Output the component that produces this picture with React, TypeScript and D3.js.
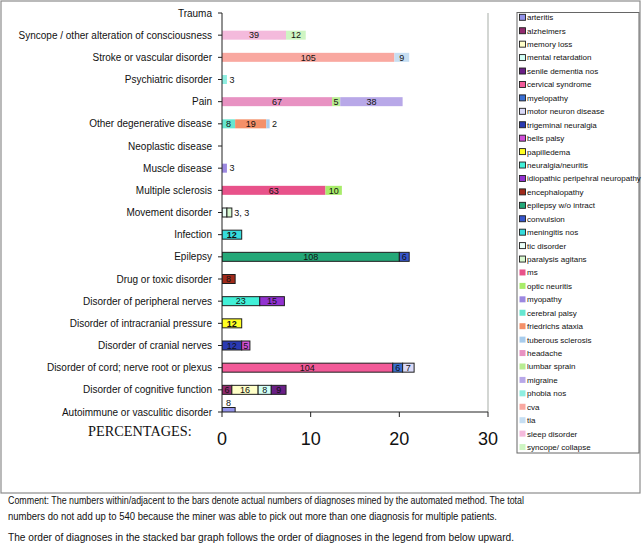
import React from "react";
import * as d3 from "d3";

const categories = [
  "Trauma",
  "Syncope / other alteration of consciousness",
  "Stroke or vascular disorder",
  "Psychiatric disorder",
  "Pain",
  "Other degenerative disease",
  "Neoplastic disease",
  "Muscle disease",
  "Multiple sclerosis",
  "Movement disorder",
  "Infection",
  "Epilepsy",
  "Drug or toxic disorder",
  "Disorder of peripheral nerves",
  "Disorder of intracranial pressure",
  "Disorder of cranial nerves",
  "Disorder of cord; nerve root or plexus",
  "Disorder of cognitive function",
  "Autoimmune or vasculitic disorder",
];

const seriesNames = [
  "arteritis", "alzheimers", "memory loss", "mental retardation", "senile dementia nos",
  "cervical syndrome", "myelopathy", "motor neuron disease", "trigeminal neuralgia", "bells palsy",
  "papilledema", "neuralgia/neuritis", "idiopathic peripehral neuropathy", "encephalopathy",
  "epilepsy w/o intract", "convulsion", "meningitis nos", "tic disorder", "paralysis agitans",
  "ms", "optic neuritis", "myopathy", "cerebral palsy", "friedrichs ataxia", "tuberous sclerosis",
  "headache", "lumbar sprain", "migraine", "phobia nos", "cva", "tia", "sleep disorder",
  "syncope/ collapse",
];

const seriesCategory = [
  "Autoimmune or vasculitic disorder",
  "Disorder of cognitive function", "Disorder of cognitive function", "Disorder of cognitive function", "Disorder of cognitive function",
  "Disorder of cord; nerve root or plexus", "Disorder of cord; nerve root or plexus", "Disorder of cord; nerve root or plexus",
  "Disorder of cranial nerves", "Disorder of cranial nerves",
  "Disorder of intracranial pressure",
  "Disorder of peripheral nerves", "Disorder of peripheral nerves",
  "Drug or toxic disorder",
  "Epilepsy", "Epilepsy",
  "Infection",
  "Movement disorder", "Movement disorder",
  "Multiple sclerosis", "Multiple sclerosis",
  "Muscle disease",
  "Other degenerative disease", "Other degenerative disease", "Other degenerative disease",
  "Pain", "Pain", "Pain",
  "Psychiatric disorder",
  "Stroke or vascular disorder", "Stroke or vascular disorder",
  "Syncope / other alteration of consciousness", "Syncope / other alteration of consciousness",
];

const seriesCounts = [
  8, 6, 16, 8, 9, 104, 6, 7, 12, 5, 12, 23, 15, 8, 108, 6, 12, 3, 3,
  63, 10, 3, 8, 19, 2, 67, 5, 38, 3, 105, 9, 39, 12,
];

const seriesColors = [
  "#9393ea", "#922a6e", "#ffffc8", "#d2fff6", "#6a1f86",
  "#f25a98", "#3a6fd2", "#dadaf8", "#2a3ab2", "#d050d8",
  "#ffff22", "#42f0d8", "#9232d0", "#a02a1a",
  "#24a878", "#3656cc", "#36dcdc", "#eafff8", "#d8f8d0",
  "#e8528a", "#a8ec6a", "#9c88e0", "#66e6d0", "#f49068", "#a8ccec",
  "#e892c2", "#b8ec92", "#b8a8e8", "#8eeee0", "#f9a8a0", "#c6def2", "#f4badc",
  "#cef5c2",
];

const borderedCount = 19;
const boldLabelSeries = ["meningitis nos", "papilledema"];
const xTicks = [0, 10, 20, 30];
const TOTAL = 540;

const commentLines = [
  "Comment: The numbers within/adjacent to the bars denote actual numbers of diagnoses mined by the automated method. The total",
  "numbers do not add up to 540 because the miner was able to pick out more than one diagnosis for multiple patients.",
  "The order of diagnoses in the stacked bar graph follows the order of diagnoses in the legend from below upward.",
];
const commentWidths = [516, 489, 506];

const SANS = "'Liberation Sans', Arial, sans-serif";
const SERIF = "'Liberation Serif', 'Times New Roman', serif";

export default function App() {
  const x = d3.scaleLinear().domain([0, 30]).range([222, 488]);
  const y = d3.scalePoint<string>().domain(categories).range([13, 412]);
  const barH = 9;
  const plotTop = 13;
  const plotBottom = 412;

  const segs: any[] = [];
  const outside: Record<string, { text: string[]; end: number }> = {};
  const cum: Record<string, number> = {};
  seriesNames.forEach((name, i) => {
    const cat = seriesCategory[i];
    const v = (seriesCounts[i] / TOTAL) * 100;
    const x0 = cum[cat] || 0;
    const x1 = x0 + v;
    cum[cat] = x1;
    segs.push({ name, cat, i, x0, x1, count: seriesCounts[i] });
  });
  segs.forEach((s) => {
    const w = x(s.x1) - x(s.x0);
    s.inside = w >= 7;
    if (!s.inside) {
      if (!outside[s.cat]) outside[s.cat] = { text: [], end: 0 };
      outside[s.cat].text.push(String(s.count));
    }
  });
  Object.keys(outside).forEach((c) => (outside[c].end = cum[c]));

  const legendX = 517;
  const legendTop = 12.5;
  const legendBottom = 453;
  const legendStart = 17.3;
  const legendStep = 13.43;

  return (
    <svg
      width={642}
      height={544}
      style={{ position: "absolute", left: 0, top: 0, background: "#fff" }}
      fontFamily={SANS}
    >
      <defs>
        <clipPath id="plotClip">
          <rect x={222} y={0} width={270} height={plotBottom} />
        </clipPath>
      </defs>
      <rect x={0} y={0} width={642} height={544} fill="#fff" />
      <rect x={1} y={1} width={639} height={492} fill="none" stroke="#8c8c8c" strokeWidth={1.2} />

      <line x1={488} x2={488} y1={plotTop} y2={plotBottom} stroke="#c4c8c4" strokeWidth={1.5} />

      <g clipPath="url(#plotClip)">
        {segs.map((s) => (
          <rect
            key={s.name}
            x={x(s.x0)}
            y={(y(s.cat) as number) - barH / 2}
            width={x(s.x1) - x(s.x0)}
            height={barH}
            fill={seriesColors[s.i]}
            stroke={s.i < borderedCount ? "#1e1e1e" : "none"}
            strokeWidth={s.i < borderedCount ? 1 : 0}
          />
        ))}
      </g>

      {segs
        .filter((s) => s.inside)
        .map((s) => {
          const cy = y(s.cat) as number;
          const atBottom = cy >= plotBottom - 0.5;
          return (
            <text
              key={"l" + s.name}
              x={(x(s.x0) + x(s.x1)) / 2}
              y={atBottom ? cy - barH / 2 - 1.5 : cy + 3.2}
              fontSize={9}
              textAnchor="middle"
              fontWeight={boldLabelSeries.includes(s.name) ? "bold" : "normal"}
              fill="#111"
            >
              {s.count}
            </text>
          );
        })}
      {Object.keys(outside).map((c) => (
        <text
          key={"o" + c}
          x={x(outside[c].end) + 2.5}
          y={(y(c) as number) + 3.2}
          fontSize={9}
          fill="#111"
        >
          {outside[c].text.join(", ")}
        </text>
      ))}

      <line x1={222} x2={222} y1={plotTop} y2={plotBottom} stroke="#222" strokeWidth={1} />
      {categories.map((c) => (
        <g key={c}>
          <line x1={218} x2={222} y1={y(c)} y2={y(c)} stroke="#222" />
          <text x={212} y={(y(c) as number) + 3.5} fontSize={10} textAnchor="end" fill="#111">
            {c}
          </text>
        </g>
      ))}

      <line x1={222} x2={488} y1={plotBottom} y2={plotBottom} stroke="#222" strokeWidth={1} />
      {xTicks.map((t) => (
        <g key={t}>
          <line x1={x(t)} x2={x(t)} y1={plotBottom} y2={plotBottom + 5} stroke="#222" />
          <text x={x(t)} y={445} fontSize={18} textAnchor="middle" fill="#111">
            {t}
          </text>
        </g>
      ))}
      <text x={88} y={436} fontSize={14.3} fontFamily={SERIF} fill="#111">
        PERCENTAGES:
      </text>

      <rect
        x={legendX}
        y={legendTop}
        width={639 - legendX}
        height={legendBottom - legendTop}
        fill="#fff"
        stroke="#666"
        strokeWidth={1}
      />
      {seriesNames.map((n, i) => {
        const ly = legendStart + i * legendStep;
        return (
          <g key={"lg" + n}>
            <rect
              x={519.5}
              y={ly - 3}
              width={6}
              height={6}
              fill={seriesColors[i]}
              stroke={i < borderedCount ? "#1e1e1e" : "none"}
              strokeWidth={i < borderedCount ? 0.9 : 0}
            />
            <text x={527} y={ly + 2.9} fontSize={8} fill="#111">
              {n}
            </text>
          </g>
        );
      })}

      {commentLines.map((l, i) => (
        <text
          key={"c" + i}
          x={8}
          y={[504, 520, 541][i]}
          fontSize={10}
          textLength={commentWidths[i]}
          lengthAdjust="spacingAndGlyphs"
          fill="#111"
        >
          {l}
        </text>
      ))}
    </svg>
  );
}
